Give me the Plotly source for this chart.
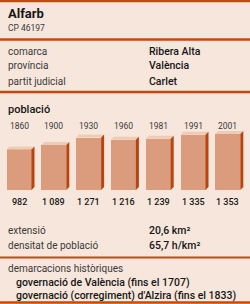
import plotly.graph_objects as go

# ---- data ----
town = "Alfarb"
postcode = "CP 46197"
info_labels = ["comarca", "província", "partit judicial"]
info_values = ["Ribera Alta", "València", "Carlet"]
years = ["1860", "1900", "1930", "1960", "1981", "1991", "2001"]
population = [982, 1089, 1271, 1216, 1239, 1335, 1353]
pop_labels = ["982", "1 089", "1 271", "1 216", "1 239", "1 335", "1 353"]
area_labels = ["extensió", "densitat de població"]
area_values = ["20,6 km²", "65,7 h/km²"]
hist_title = "demarcacions històriques"
hist_items = ["governació de València (fins el 1707)",
              "governació (corregiment) d'Alzira (fins el 1833)"]

# ---- style ----
W, H = 250, 304
BG = "#F7E6DB"
LINE = "#C4490F"
FRONT = "#DA9C7C"
TOP = "#EECBB5"
SIDE = "#B9440F"
LABEL_C = "#3a3a3a"
VALUE_C = "#161616"
FONT = "Roboto"

def px(x):
    return x / W

def py(y):
    return 1 - y / H

# axis geometry
step_px = 34.8
first_center_px = 19
x_range = [-first_center_px / step_px, (W - first_center_px) / step_px]
bar_w = 25 / step_px
base_px, top_px = 190, 120
unit_px = 0.0413
y_max = (base_px - top_px) / unit_px
dx = 3 / step_px
dy = 3 / unit_px

xs = list(range(len(years)))
fig = go.Figure()
fig.add_trace(go.Bar(x=xs, y=population, width=bar_w,
                     marker=dict(color=FRONT, line=dict(width=0)),
                     hoverinfo="skip", showlegend=False))
for x, v in zip(xs, population):
    l, r = x - bar_w / 2, x + bar_w / 2
    fig.add_trace(go.Scatter(x=[l, l + dx, r + dx, r, l], y=[v, v + dy, v + dy, v, v],
                             fill="toself", fillcolor=TOP, mode="none",
                             hoverinfo="skip", showlegend=False))
    fig.add_trace(go.Scatter(x=[r, r + dx, r + dx, r, r], y=[v, v + dy, dy, 0, v],
                             fill="toself", fillcolor=SIDE, mode="none",
                             hoverinfo="skip", showlegend=False))

ann = []
def text(x, y, s, size, color=LABEL_C, weight=400, xanchor="left", xref="paper"):
    ann.append(dict(x=x, y=py(y), xref=xref, yref="paper", text=s, showarrow=False,
                    xanchor=xanchor, yanchor="middle",
                    font=dict(family=FONT, size=size, color=color, weight=weight)))

text(px(6), 14, town, 13, VALUE_C, 700)
text(px(6), 28, postcode, 8.5, LABEL_C)
for i, (lab, val) in enumerate(zip(info_labels, info_values)):
    y = 51 + 15 * i
    text(px(6), y, lab, 10, LABEL_C)
    text(px(147), y, val, 10.5, VALUE_C, 500)
text(px(6), 109, "població", 11, VALUE_C, 500)
for x, yr, lab in zip(xs, years, pop_labels):
    text(x, 126, yr, 8.5, LABEL_C, 400, "center", "x")
    text(x, 202, lab, 9, VALUE_C, 500, "center", "x")
for i, (lab, val) in enumerate(zip(area_labels, area_values)):
    y = 230 + 15 * i
    text(px(6), y, lab, 10, LABEL_C)
    text(px(147), y, val, 10.5, VALUE_C, 500)
text(px(6), 268, hist_title, 10, LABEL_C)
for i, s in enumerate(hist_items):
    text(px(14), 282 + 13 * i, s, 10.5, VALUE_C, 500)

shapes = []
for y, w in [(1, 2.5), (39.5, 2.5), (92, 2.5), (257.5, 2), (302.5, 2.5)]:
    shapes.append(dict(type="line", xref="paper", yref="paper", x0=0, x1=1,
                       y0=py(y), y1=py(y), line=dict(color=LINE, width=w)))

fig.update_layout(
    width=W, height=H, margin=dict(l=0, r=0, t=0, b=0),
    paper_bgcolor=BG, plot_bgcolor="rgba(0,0,0,0)",
    xaxis=dict(range=x_range, visible=False, domain=[0, 1], fixedrange=True),
    yaxis=dict(range=[0, y_max], visible=False, domain=[py(base_px), py(top_px)], fixedrange=True),
    annotations=ann, shapes=shapes, bargap=0,
)
fig.write_html("out.html")
